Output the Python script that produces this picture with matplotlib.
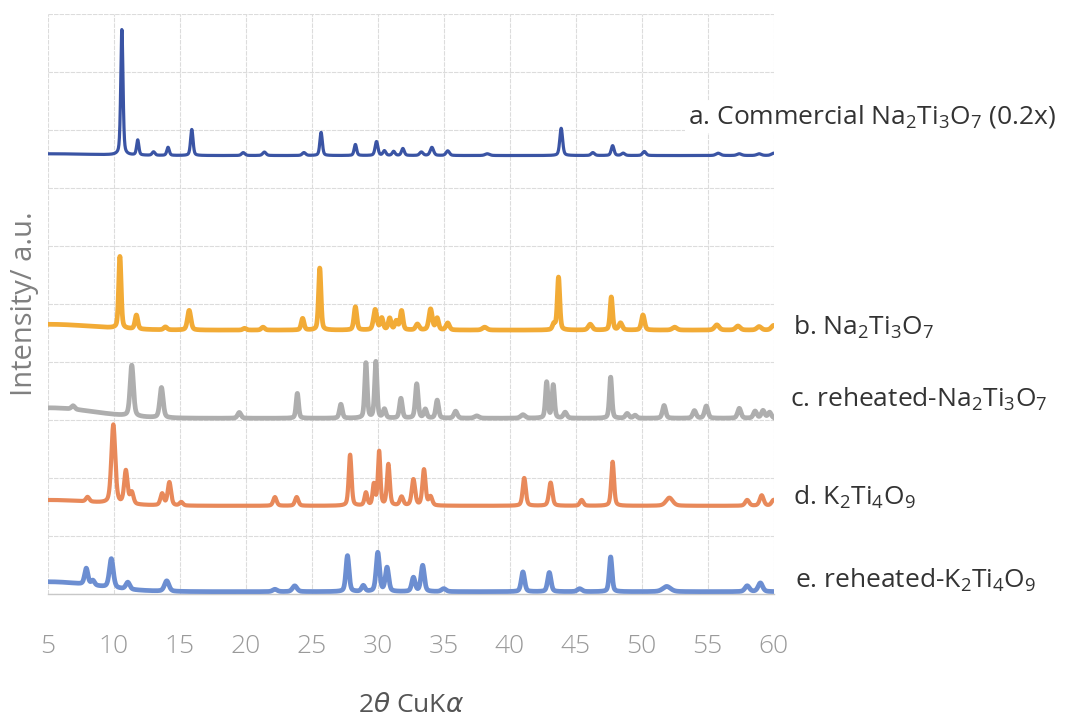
import numpy as np
import matplotlib
matplotlib.use("Agg")
import matplotlib.pyplot as plt

plt.rcParams['font.family'] = ['Open Sans', 'DejaVu Sans']
plt.rcParams['mathtext.default'] = 'regular'

# ---------------- data ----------------
# each series: baseline level, left-side background bump, peak positions (2theta), heights, widths (FWHM)
a_base, a_bump = 7.56, 0.03
a_pos = [10.6, 11.8, 13.0, 14.1, 15.9, 19.8, 21.4, 24.4, 25.7, 28.3, 29.9, 30.5, 31.2, 31.9, 33.3, 34.1, 35.3, 38.3, 43.9, 46.3, 47.8, 48.6, 50.2, 55.8, 57.4, 58.9, 60.0]
a_h   = [2.17, 0.26, 0.06, 0.14, 0.45, 0.05, 0.06, 0.05, 0.40, 0.19, 0.24, 0.08, 0.07, 0.12, 0.06, 0.14, 0.08, 0.03, 0.47, 0.05, 0.17, 0.04, 0.07, 0.04, 0.03, 0.03, 0.04]
a_w   = [0.20, 0.20, 0.25, 0.22, 0.22, 0.3, 0.3, 0.3, 0.22, 0.22, 0.25, 0.25, 0.25, 0.25, 0.3, 0.3, 0.3, 0.4, 0.25, 0.3, 0.25, 0.3, 0.3, 0.4, 0.4, 0.4, 0.4]

b_base, b_bump = 4.55, 0.10
b_pos = [10.45, 11.7, 13.9, 15.7, 19.9, 21.3, 24.3, 25.6, 28.3, 29.8, 30.3, 30.9, 31.4, 31.8, 33.0, 34.0, 34.5, 35.3, 38.1, 43.35, 43.7, 46.1, 47.7, 48.4, 50.1, 52.5, 55.7, 57.3, 58.9, 60.0]
b_h   = [1.24, 0.24, 0.05, 0.34, 0.03, 0.05, 0.20, 1.07, 0.40, 0.35, 0.20, 0.20, 0.15, 0.33, 0.10, 0.36, 0.20, 0.12, 0.05, 0.10, 0.91, 0.10, 0.57, 0.12, 0.26, 0.05, 0.09, 0.07, 0.06, 0.08]
b_w   = [0.22, 0.25, 0.3, 0.3, 0.3, 0.3, 0.25, 0.22, 0.25, 0.3, 0.25, 0.25, 0.25, 0.25, 0.3, 0.3, 0.25, 0.3, 0.4, 0.25, 0.22, 0.35, 0.22, 0.3, 0.28, 0.4, 0.4, 0.4, 0.4, 0.4]

c_base, c_bump = 3.03, 0.18
c_pos = [6.9, 11.35, 13.6, 19.5, 23.9, 27.2, 29.1, 29.85, 30.5, 31.75, 32.95, 33.6, 34.5, 35.9, 37.5, 41.0, 42.8, 43.3, 44.2, 47.65, 48.9, 49.5, 51.7, 54.0, 54.9, 57.4, 58.6, 59.2, 59.7]
c_h   = [0.06, 0.88, 0.52, 0.10, 0.43, 0.24, 0.95, 0.97, 0.15, 0.34, 0.59, 0.15, 0.31, 0.12, 0.04, 0.06, 0.62, 0.57, 0.10, 0.71, 0.08, 0.05, 0.22, 0.13, 0.21, 0.17, 0.12, 0.13, 0.10]
c_w   = [0.3, 0.3, 0.3, 0.3, 0.22, 0.25, 0.22, 0.22, 0.25, 0.25, 0.25, 0.25, 0.25, 0.3, 0.4, 0.4, 0.22, 0.22, 0.3, 0.22, 0.3, 0.3, 0.28, 0.3, 0.3, 0.3, 0.3, 0.3, 0.3]

d_base, d_bump = 1.52, 0.10
d_pos = [8.0, 9.95, 10.9, 11.35, 13.65, 14.2, 15.1, 22.2, 23.85, 27.9, 29.1, 29.7, 30.1, 30.8, 31.8, 32.7, 33.5, 34.0, 41.1, 43.1, 45.45, 47.8, 52.1, 58.0, 59.1, 60.0]
d_h   = [0.08, 1.36, 0.57, 0.20, 0.20, 0.40, 0.06, 0.15, 0.15, 0.88, 0.22, 0.36, 0.93, 0.71, 0.15, 0.45, 0.62, 0.15, 0.48, 0.40, 0.10, 0.76, 0.14, 0.10, 0.18, 0.10]
d_w   = [0.3, 0.35, 0.3, 0.3, 0.3, 0.3, 0.3, 0.3, 0.3, 0.25, 0.25, 0.22, 0.22, 0.25, 0.3, 0.3, 0.28, 0.3, 0.28, 0.3, 0.3, 0.25, 0.6, 0.35, 0.35, 0.35]

e_base, e_bump = 0.04, 0.17
e_pos = [7.9, 8.4, 9.8, 11.05, 14.0, 22.2, 23.7, 27.7, 28.9, 30.0, 30.7, 32.7, 33.4, 35.0, 41.0, 43.0, 45.3, 47.65, 51.9, 58.0, 59.0]
e_h   = [0.28, 0.08, 0.50, 0.12, 0.18, 0.04, 0.10, 0.62, 0.10, 0.67, 0.41, 0.24, 0.45, 0.05, 0.34, 0.33, 0.05, 0.60, 0.09, 0.10, 0.15]
e_w   = [0.3, 0.3, 0.35, 0.35, 0.4, 0.4, 0.4, 0.28, 0.3, 0.3, 0.3, 0.3, 0.3, 0.4, 0.3, 0.3, 0.4, 0.25, 0.7, 0.4, 0.4]

labels = [r'a. Commercial Na$_2$Ti$_3$O$_7$ (0.2x)', r'b. Na$_2$Ti$_3$O$_7$',
          r'c. reheated-Na$_2$Ti$_3$O$_7$', r'd. K$_2$Ti$_4$O$_9$', r'e. reheated-K$_2$Ti$_4$O$_9$']
xticks = [5, 10, 15, 20, 25, 30, 35, 40, 45, 50, 55, 60]

# ---------------- drawing ----------------
x = np.linspace(5, 60, 3000)

def pattern(base, bump, pos, h, w):
    y = np.full_like(x, base) + bump * np.exp(-((x - 5.0) / 5.0) ** 2)
    for p, hh, ww in zip(pos, h, w):
        g = np.exp(-4 * np.log(2) * ((x - p) / ww) ** 2)
        l = 1.0 / (1.0 + 4 * ((x - p) / ww) ** 2)
        y += hh * (0.6 * g + 0.4 * l)
    return y

series = [
    (a_base, a_bump, a_pos, a_h, a_w, '#3A54A4', 2.3),
    (b_base, b_bump, b_pos, b_h, b_w, '#F2AB36', 3.4),
    (c_base, c_bump, c_pos, c_h, c_w, '#AEAEAE', 3.4),
    (d_base, d_bump, d_pos, d_h, d_w, '#E8895A', 3.0),
    (e_base, e_bump, e_pos, e_h, e_w, '#6C8ED1', 3.4),
]

fig = plt.figure(figsize=(10.67, 7.16), dpi=100)
ax = fig.add_axes([0.045, 0.1704, 0.6800, 0.8100])

for base, bump, pos, h, w, col, lw in series:
    ax.plot(x, pattern(base, bump, pos, h, w), color=col, lw=lw, solid_joinstyle='round', zorder=3)

ax.set_xlim(5, 60)
ax.set_ylim(0, 10)
ax.set_xticks(xticks)
ax.set_yticks(np.arange(0, 11, 1))
ax.set_yticklabels([])
ax.grid(True, color='#DCDCDC', lw=0.8, ls=(0, (4, 1)))
ax.tick_params(axis='both', length=0)
ax.tick_params(axis='x', pad=29, labelsize=19, labelcolor='#9A9A9A')
for s in ['top', 'right', 'left']:
    ax.spines[s].set_visible(False)
ax.spines['bottom'].set_color('#C8C8C8')
ax.spines['bottom'].set_linewidth(1.0)
for lab in ax.get_xticklabels():
    lab.set_fontweight('light')

ax.set_xlabel(r'2$\mathit{\theta}$ CuK$\mathit{\alpha}$', fontsize=19, color='#555555', labelpad=24)
ax.set_ylabel('Intensity/ a.u.', fontsize=21, color='#808080', labelpad=3)

label_pos = [(688, 117), (793, 327), (790, 399), (793, 497), (795, 580)]
for (px, py), txt in zip(label_pos, labels):
    fig.text(px / 1067, 1 - py / 716, txt, fontsize=19, color='#333333', va='center', ha='left',
             bbox=dict(facecolor='white', edgecolor='none', pad=2), zorder=5)

fig.savefig('out.png', dpi=100)
